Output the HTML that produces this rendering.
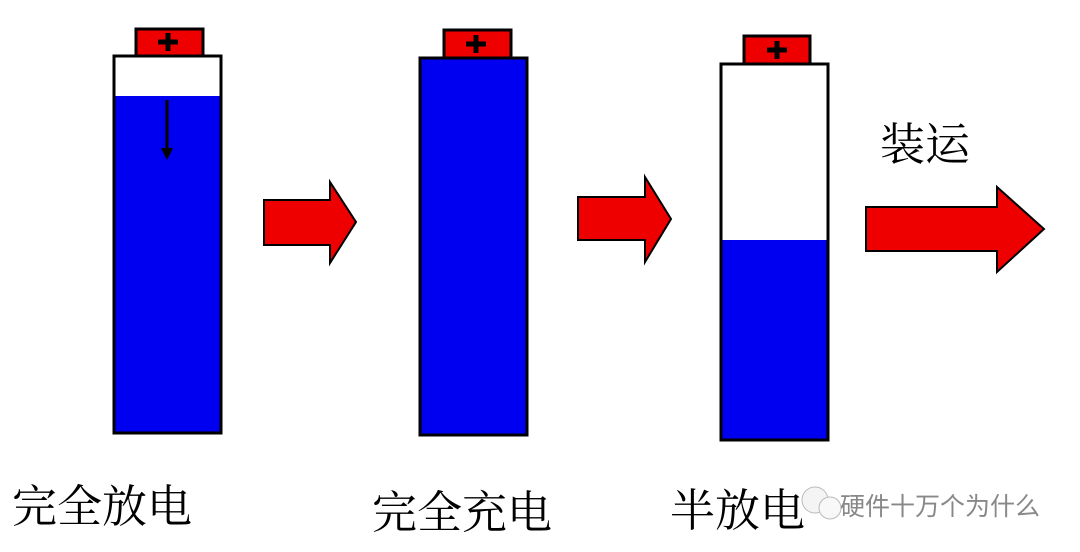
<!DOCTYPE html>
<html><head><meta charset="utf-8"><style>
html,body{margin:0;padding:0;background:#fff;width:1080px;height:552px;overflow:hidden}
</style></head><body>
<svg width="1080" height="552" viewBox="0 0 1080 552" xmlns="http://www.w3.org/2000/svg">
<g stroke="#000" stroke-width="3">
<rect x="114" y="56" width="107" height="377" fill="#fff"/>
<rect x="114" y="96" width="107" height="337" fill="#0000f0" stroke="none"/>
<rect x="114" y="56" width="107" height="377" fill="none"/>
<rect x="136" y="29" width="67" height="27" fill="#ee0000"/>
<rect x="420" y="58" width="107" height="377" fill="#0000f0"/>
<rect x="444" y="30" width="67" height="28" fill="#ee0000"/>
<rect x="721" y="64" width="107" height="376" fill="#fff"/>
<rect x="721" y="240" width="107" height="200" fill="#0000f0" stroke="none"/>
<rect x="721" y="64" width="107" height="376" fill="none"/>
<rect x="744" y="36" width="66" height="28" fill="#ee0000"/>
<polygon points="264,200 330,200 330,182 356,222 330,263 330,245 264,245" fill="#ee0000" stroke-width="2"/>
<polygon points="578,197 645,197 645,177 671,219 645,262 645,240 578,240" fill="#ee0000" stroke-width="2"/>
<polygon points="866,207 997,207 997,187 1044,229 997,272 997,251 866,251" fill="#ee0000" stroke-width="2"/>
</g>
<g stroke="#000" stroke-width="5">
<line x1="158" y1="42" x2="178" y2="42"/><line x1="168" y1="33" x2="168" y2="51"/>
<line x1="466" y1="44" x2="486" y2="44"/><line x1="476" y1="35" x2="476" y2="53"/>
<line x1="767" y1="50" x2="787" y2="50"/><line x1="777" y1="41" x2="777" y2="59"/>
</g>
<line x1="167" y1="100" x2="167" y2="150" stroke="#000" stroke-width="3"/>
<polygon points="161,148 173,148 167,160" fill="#000"/>
<g font-family="'Liberation Serif','Noto Serif CJK SC',serif" font-size="45" fill="#000">
<text x="12" y="522">完全放电</text>
<text x="372" y="528">完全充电</text>
<text x="670" y="526">半放电</text>
<text x="880" y="160">装运</text>
</g>
<circle cx="815" cy="500" r="13" fill="#f4f4f4" stroke="#bbb"/>
<circle cx="830" cy="508" r="11" fill="#f8f8f8" stroke="#bbb"/>
<text x="840" y="515" font-family="'Liberation Sans','Noto Sans CJK SC',sans-serif" font-size="25" fill="#888">硬件十万个为什么</text>
</svg>
</body></html>
